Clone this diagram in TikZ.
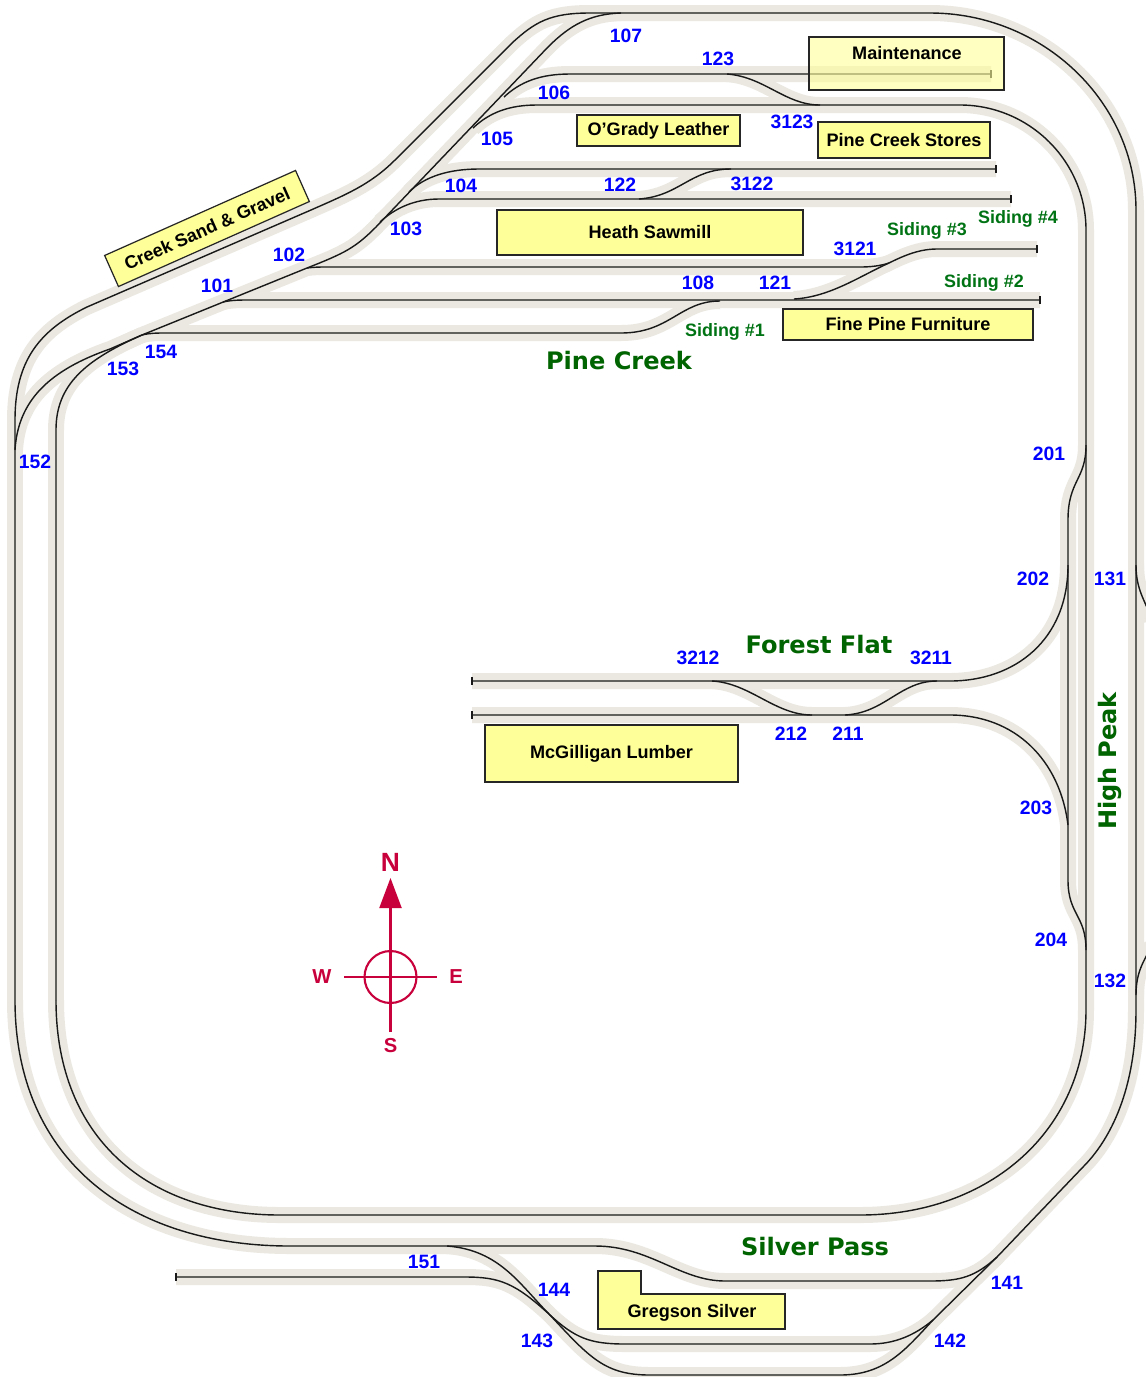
\documentclass[tikz,border=0pt]{standalone}
\usepackage{fontspec}
\setmainfont{Liberation Sans}
\newfontfamily\placefont{DejaVu Sans}
\usetikzlibrary{arrows.meta}
\usepackage{xcolor}
\definecolor{ballastgray}{RGB}{234,232,224}
\definecolor{railblack}{RGB}{25,25,25}
\definecolor{bldgyellow}{RGB}{255,255,153}
\definecolor{numblue}{RGB}{0,0,255}
\definecolor{placegreen}{RGB}{0,100,0}
\definecolor{sidinggreen}{RGB}{0,115,20}
\definecolor{compassred}{RGB}{200,0,60}

% every track, drawn once as ballast and once as rail
\newcommand{\trackplan}[1]{
  % outer loop
  \draw[#1] (15,1000) -- (15,420) .. controls (15,360) and (40,330) .. (87,307) -- (311,210)
    .. controls (345,195) and (370,185) .. (395,160) -- (512,43)
    .. controls (535,22) and (550,13) .. (590,13) -- (930,13)
    .. controls (1043,13) and (1136,102) .. (1136,210) -- (1136,1010)
    .. controls (1136,1090) and (1110,1140) .. (1083,1167) -- (997,1257)
    .. controls (975,1277) and (960,1281) .. (930,1281) -- (725,1281)
    .. controls (680,1281) and (650,1246) .. (595,1246) -- (290,1246)
    .. controls (130,1246) and (15,1160) .. (15,1000);
  % inner loop
  \draw[#1] (56,1000) -- (56,430) .. controls (56,385) and (85,360) .. (142,335) -- (307,268)
    .. controls (345,253) and (355,248) .. (376,227) -- (548,47)
    .. controls (570,25) and (590,14) .. (621,13);
  \draw[#1] (473,128) .. controls (490,112) and (510,105) .. (537,105) -- (960,105)
    .. controls (1029,105) and (1086,161) .. (1086,230) -- (1086,1010)
    .. controls (1086,1130) and (990,1215) .. (860,1215) -- (280,1215)
    .. controls (150,1215) and (56,1140) .. (56,1000);
  % west end
  \draw[#1] (15,450) .. controls (18,400) and (50,370) .. (110,349) -- (142,335);
  % yard at Pine Creek
  \draw[#1] (504,97) .. controls (520,82) and (540,74) .. (570,74) -- (991,74);
  \draw[#1] (727,74) .. controls (765,77) and (785,105) .. (820,105);
  \draw[#1] (409,192) .. controls (425,176) and (450,169) .. (479,169) -- (996,169);
  \draw[#1] (380,222) .. controls (395,208) and (415,199) .. (439,199) -- (1011,199);
  \draw[#1] (639,199) .. controls (680,196) and (690,169) .. (731,169);
  \draw[#1] (307,268) .. controls (315,267) and (320,267) .. (325,267) -- (860,267)
    .. controls (870,267) and (880,266) .. (889,263);
  \draw[#1] (794,299) .. controls (830,297) and (860,276) .. (889,263)
    .. controls (905,255) and (920,249) .. (937,249) -- (1037,249);
  \draw[#1] (223,302) .. controls (232,300) and (240,300) .. (249,300) -- (1040,300);
  \draw[#1] (142,335) .. controls (150,333) and (157,333) .. (165,333) -- (621,333)
    .. controls (670,333) and (680,301) .. (720,301);
  % High Peak
  \draw[#1] (1086,445) .. controls (1086,480) and (1068,480) .. (1068,520) -- (1068,880)
    .. controls (1068,915) and (1086,915) .. (1086,950);
  \draw[#1] (1068,565) .. controls (1068,640) and (1015,681) .. (950,681) -- (472,681);
  \draw[#1] (1068,825) .. controls (1060,760) and (1015,715) .. (950,715) -- (472,715);
  \draw[#1] (712,681) .. controls (750,683) and (775,715) .. (812,715);
  \draw[#1] (845,715) .. controls (885,713) and (900,681) .. (937,681);
  \draw[#1] (1136,565) .. controls (1136,590) and (1145,600) .. (1152,620);
  \draw[#1] (1136,995) .. controls (1136,970) and (1145,960) .. (1152,945);
  % Silver Pass
  \draw[#1] (447,1246) .. controls (500,1250) and (520,1285) .. (550,1315)
    .. controls (575,1338) and (590,1344) .. (625,1344) -- (870,1344)
    .. controls (895,1344) and (915,1335) .. (933,1320);
  \draw[#1] (176,1277) -- (465,1277) .. controls (500,1277) and (515,1283) .. (550,1315)
    .. controls (590,1358) and (605,1375) .. (650,1375) -- (840,1375)
    .. controls (885,1375) and (905,1350) .. (933,1320) -- (997,1257);
}

\begin{document}
\begin{tikzpicture}[x=0.02cm, y=-0.02cm,
    ballast/.style={draw=ballastgray, line width=0.32cm},
    rail/.style={draw=railblack, line width=0.8pt},
    bldg/.style={draw=black!85, fill=bldgyellow, line width=0.7pt, inner sep=0pt,
                 font=\fontsize{10.3}{12}\selectfont\bfseries},
    bldgtext/.style={font=\fontsize{10.3}{12}\selectfont\bfseries, yshift=-0.02cm},
    num/.style={font=\fontsize{11}{13}\selectfont\bfseries, text=numblue, inner sep=0pt, yshift=-0.02cm},
    siding/.style={font=\fontsize{10.2}{12}\selectfont\bfseries, text=sidinggreen, inner sep=0pt, yshift=-0.03cm},
    place/.style={font=\placefont\fontsize{13.7}{16}\selectfont\bfseries, text=placegreen, inner sep=0pt, yshift=-0.02cm},
    compass/.style={draw=compassred, line width=1.2pt},
    point/.style={font=\fontsize{11.5}{13}\selectfont\bfseries, text=compassred, inner sep=0pt, yshift=-0.02cm}
]
\useasboundingbox (0,0) rectangle (1146,1377);
\fill[white] (0,0) rectangle (1146,1377);
\clip (0,0) rectangle (1146,1377);

\trackplan{ballast}
\trackplan{rail}

% track ends
\draw[rail] (991,70) -- (991,78);
\draw[rail] (996,165) -- (996,173);
\draw[rail] (1011,195) -- (1011,203);
\draw[rail] (1037,245) -- (1037,253);
\draw[rail] (1040,296) -- (1040,304);
\draw[rail] (472,677) -- (472,685);
\draw[rail] (472,711) -- (472,719);
\draw[rail] (176,1273) -- (176,1281);

% buildings
\node[bldg, fill opacity=0.6, minimum width=3.9cm, minimum height=1.06cm] (maint) at (906.5,63.5) {};
\node[bldgtext] (mainttext) at (907,52) {Maintenance};
\node[bldg, minimum width=3.26cm, minimum height=0.62cm] (ogrady) at (658.5,130.5) {O’Grady Leather};
\node[bldg, minimum width=3.44cm, minimum height=0.72cm] (stores) at (904,140) {Pine Creek Stores};
\node[bldg, minimum width=6.12cm, minimum height=0.9cm] (heath) at (650,232.5) {Heath Sawmill};
\node[bldg, minimum width=5cm, minimum height=0.62cm] (furniture) at (908,324.5) {Fine Pine Furniture};
\node[bldg, minimum width=5.06cm, minimum height=1.14cm] (lumber) at (611.5,753.5) {McGilligan Lumber};
\node[bldg, rotate=24, minimum width=4.18cm, minimum height=0.68cm] (gravel) at (207,228.5) {Creek Sand \& Gravel};
\draw[bldg] (598,1271) -- (641,1271) -- (641,1294) -- (785,1294) -- (785,1329) -- (598,1329) -- cycle;
\node[bldgtext] (silver) at (692,1312) {Gregson Silver};

% turnout numbers
\node[num] (n107) at (626,35) {107};
\node[num] (n123) at (718,58) {123};
\node[num] (n106) at (554,92) {106};
\node[num] (n3123) at (792,121) {3123};
\node[num] (n105) at (497,138) {105};
\node[num] (n104) at (461,185) {104};
\node[num] (n122) at (620,184) {122};
\node[num] (n3122) at (752,183) {3122};
\node[num] (n103) at (406,228) {103};
\node[num] (n102) at (289,254) {102};
\node[num] (n101) at (217,285) {101};
\node[num] (n108) at (698,282) {108};
\node[num] (n121) at (775,282) {121};
\node[num] (n3121) at (855,248) {3121};
\node[num] (n154) at (161,351) {154};
\node[num] (n153) at (123,368) {153};
\node[num] (n152) at (35,461) {152};
\node[num] (n201) at (1049,453) {201};
\node[num] (n202) at (1033,578) {202};
\node[num] (n131) at (1110,578) {131};
\node[num] (n3212) at (698,657) {3212};
\node[num] (n3211) at (931,657) {3211};
\node[num] (n212) at (791,733) {212};
\node[num] (n211) at (848,733) {211};
\node[num] (n203) at (1036,807) {203};
\node[num] (n204) at (1051,939) {204};
\node[num] (n132) at (1110,980) {132};
\node[num] (n151) at (424,1261) {151};
\node[num] (n144) at (554,1289) {144};
\node[num] (n143) at (537,1340) {143};
\node[num] (n141) at (1007,1282) {141};
\node[num] (n142) at (950,1340) {142};

% sidings and places
\node[siding] (sid1) at (725,330) {Siding \#1};
\node[siding] (sid2) at (984,281) {Siding \#2};
\node[siding] (sid3) at (927,229) {Siding \#3};
\node[siding] (sid4) at (1018,217) {Siding \#4};
\node[place] (pinecreek) at (619,360) {Pine Creek};
\node[place] (forestflat) at (819,644) {Forest Flat};
\node[place] (silverpass) at (815,1246) {Silver Pass};
\node[place, rotate=90] (highpeak) at (1110,760) {High Peak};

% compass
\node[compass, circle, minimum size=1.04cm, inner sep=0pt] (hub) at (390.5,977) {};
\coordinate (cnorth) at (390.5,878);
\coordinate (csouth) at (390.5,1032);
\coordinate (cwest) at (344,977);
\coordinate (ceast) at (437,977);
\draw[compass, -{Triangle[length=0.6cm,width=0.44cm]}] (csouth) -- (cnorth);
\draw[compass] (cwest) -- (ceast);
\node[point, font=\fontsize{15}{17}\selectfont\bfseries] (pn) at (390.5,861) {N};
\node[point] (ps) at (390.5,1045) {S};
\node[point] (pw) at (322,976) {W};
\node[point] (pe) at (456,976) {E};
\end{tikzpicture}
\end{document}
